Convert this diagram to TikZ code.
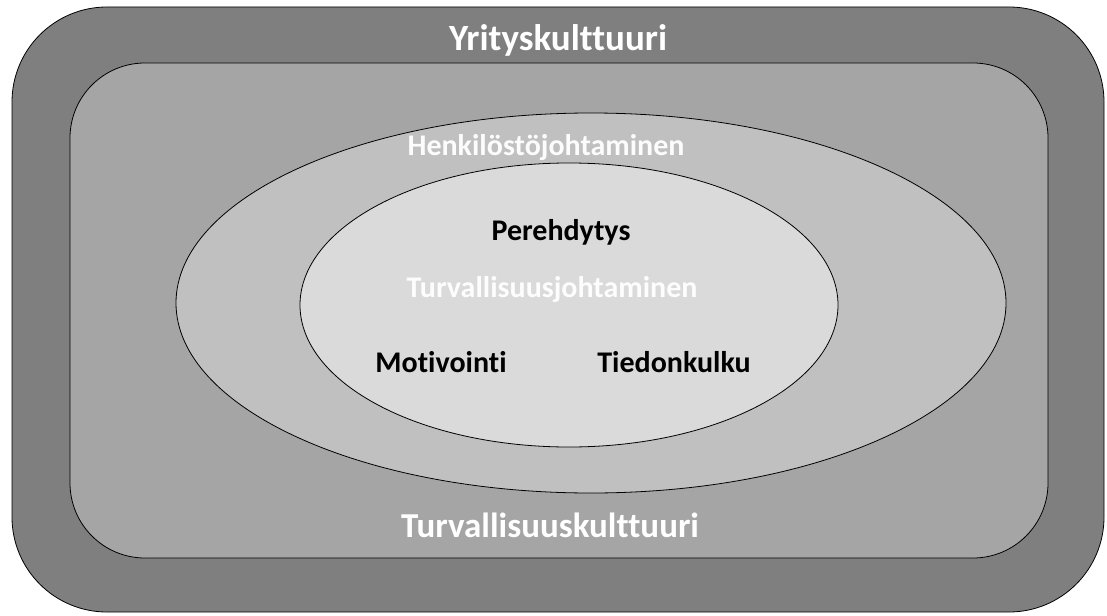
\documentclass[tikz,border=0pt]{standalone}
\usepackage{fontspec}
\setmainfont[Ligatures=NoCommon]{Carlito}
\usetikzlibrary{shapes.geometric}
\definecolor{Yritys}{HTML}{7F7F7F}
\definecolor{Turva}{HTML}{A5A5A5}
\definecolor{Henk}{HTML}{C0C0C0}
\definecolor{Johto}{HTML}{DADADA}

\begin{document}
\begin{tikzpicture}[x=1pt,y=-1pt,
  layer/.style={draw=black,line width=0.8pt,inner sep=0pt},
  bigtext/.style={font=\fontsize{37}{40}\selectfont\bfseries,text=white,anchor=base},
  smalltext/.style={font=\fontsize{30}{34}\selectfont\bfseries,anchor=base}]
  \useasboundingbox (0,0) rectangle (1107,615);
  % kerrokset
  \node[layer,fill=Yritys,rounded corners=95pt,minimum width=1092pt,minimum height=605pt] (yritys) at (558,309.5) {};
  \node[layer,fill=Turva,rounded corners=75pt,minimum width=978pt,minimum height=495pt] (turva) at (559,310.5) {};
  \node[layer,fill=Henk,ellipse,minimum width=830pt,minimum height=380pt] (henk) at (591,303) {};
  \node[layer,fill=Johto,ellipse,minimum width=538pt,minimum height=284pt] (johto) at (569,305) {};
  % tekstit
  \node[bigtext] (yrityslbl) at (558,51) {Yrityskulttuuri};
  \node[bigtext,font=\fontsize{35}{38}\selectfont\bfseries] (turvalbl) at (550,537) {Turvallisuuskulttuuri};
  \node[smalltext,text=white!95!Henk] (henklbl) at (546,155) {Henkilöstöjohtaminen};
  \node[smalltext,text=black] (pere) at (561,240) {Perehdytys};
  \node[smalltext,text=white!95!Johto] (johtolbl) at (552,297) {Turvallisuusjohtaminen};
  \node[smalltext,text=black] (moti) at (441,372) {Motivointi};
  \node[smalltext,text=black] (tieto) at (674,372) {Tiedonkulku};
\end{tikzpicture}
\end{document}
